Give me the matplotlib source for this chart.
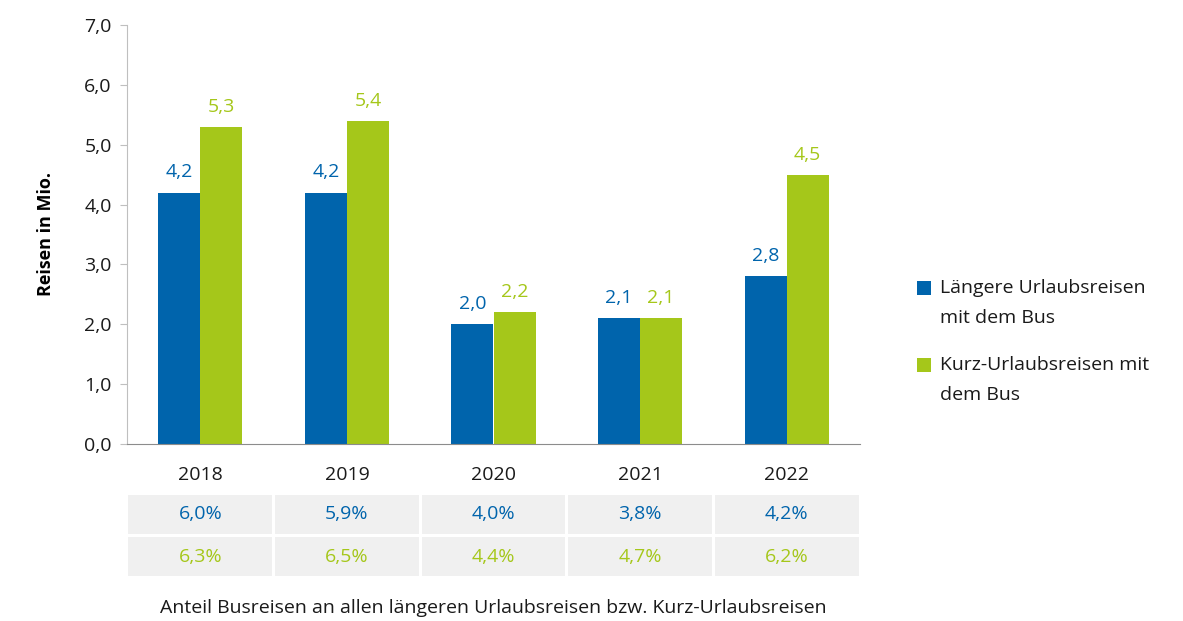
import matplotlib
matplotlib.use("Agg")
import matplotlib.pyplot as plt
from matplotlib.patches import Rectangle

years = ["2018", "2019", "2020", "2021", "2022"]
laengere = [4.2, 4.2, 2.0, 2.1, 2.8]
kurz = [5.3, 5.4, 2.2, 2.1, 4.5]
anteil_laengere = ["6,0%", "5,9%", "4,0%", "3,8%", "4,2%"]
anteil_kurz = ["6,3%", "6,5%", "4,4%", "4,7%", "6,2%"]
yticks = [0, 1, 2, 3, 4, 5, 6, 7]
legend_labels = [["Längere Urlaubsreisen", "mit dem Bus"], ["Kurz-Urlaubsreisen mit", "dem Bus"]]
ylabel = "Reisen in Mio."
caption = "Anteil Busreisen an allen längeren Urlaubsreisen bzw. Kurz-Urlaubsreisen"

BLUE = "#0064AC"
GREEN = "#A5C71A"
TXT = "#1a1a1a"
FS = 14
plt.rcParams['font.family'] = ['Open Sans', 'DejaVu Sans']

W, H = 1183, 621
fig = plt.figure(figsize=(W / 100, H / 100), dpi=100)

def fax(x0, y0, x1, y1):
    return fig.add_axes([x0 / W, 1 - y1 / H, (x1 - x0) / W, (y1 - y0) / H])

ax = fax(127, 25, 860, 444)
x = list(range(len(years)))
bw = 0.287
b1 = ax.bar([i - bw / 2 for i in x], laengere, width=bw, color=BLUE)
b2 = ax.bar([i + bw / 2 for i in x], kurz, width=bw, color=GREEN)
for i in x:
    ax.annotate(f"{laengere[i]:.1f}".replace(".", ","), (i - bw / 2, laengere[i]),
                xytext=(0, 8), textcoords="offset points", ha="center", va="bottom",
                color=BLUE, fontsize=FS)
    ax.annotate(f"{kurz[i]:.1f}".replace(".", ","), (i + bw / 2, kurz[i]),
                xytext=(0, 8), textcoords="offset points", ha="center", va="bottom",
                color=GREEN, fontsize=FS)

ax.set_xlim(-0.5, 4.5)
ax.set_ylim(0, 7)
ax.set_yticks(yticks)
ax.set_yticklabels([f"{v:.1f}".replace(".", ",") for v in yticks], fontsize=FS, color=TXT)
ax.set_xticks(x)
ax.set_xticklabels(years, fontsize=FS, color=TXT)
ax.tick_params(axis="x", length=0, pad=16)
ax.tick_params(axis="y", length=5, color="#bfbfbf", pad=6)
for s in ["top", "right"]:
    ax.spines[s].set_visible(False)
ax.spines["left"].set_color("#bfbfbf")
ax.spines["bottom"].set_color("#8c8c8c")
ax.set_ylabel(ylabel, fontsize=13, fontweight="bold", labelpad=21)

# legend (square aligned with first line of each entry)
leg_entries = [(b1.patches[0].get_facecolor(), legend_labels[0], 288),
               (b2.patches[0].get_facecolor(), legend_labels[1], 365)]
for col, lines, ytop in leg_entries:
    fig.add_artist(Rectangle((917 / W, 1 - (ytop + 7) / H), 14 / W, 14 / H,
                             transform=fig.transFigure, facecolor=col, edgecolor="none"))
    for k, line in enumerate(lines):
        fig.text(940 / W, 1 - (ytop + 30 * k) / H, line, ha="left", va="center",
                 fontsize=FS, color=TXT)

# table of shares
tax = fax(127, 493, 860, 578)
tax.set_xlim(-0.5, 4.5)
tax.set_ylim(0, 1)
tax.axis("off")
rows = [(anteil_laengere, BLUE, 0.52, 0.98), (anteil_kurz, GREEN, 0.02, 0.48)]
for vals, col, y0, y1 in rows:
    for i, v in enumerate(vals):
        tax.add_patch(Rectangle((i - 0.49, y0), 0.98, y1 - y0, facecolor="#f0f0f0", edgecolor="none"))
        tax.text(i, (y0 + y1) / 2, v, ha="center", va="center", color=col, fontsize=FS)

fig.text(493 / W, 1 - 608 / H, caption, ha="center", va="center", fontsize=FS, color=TXT)

fig.savefig("out.png", dpi=100)
